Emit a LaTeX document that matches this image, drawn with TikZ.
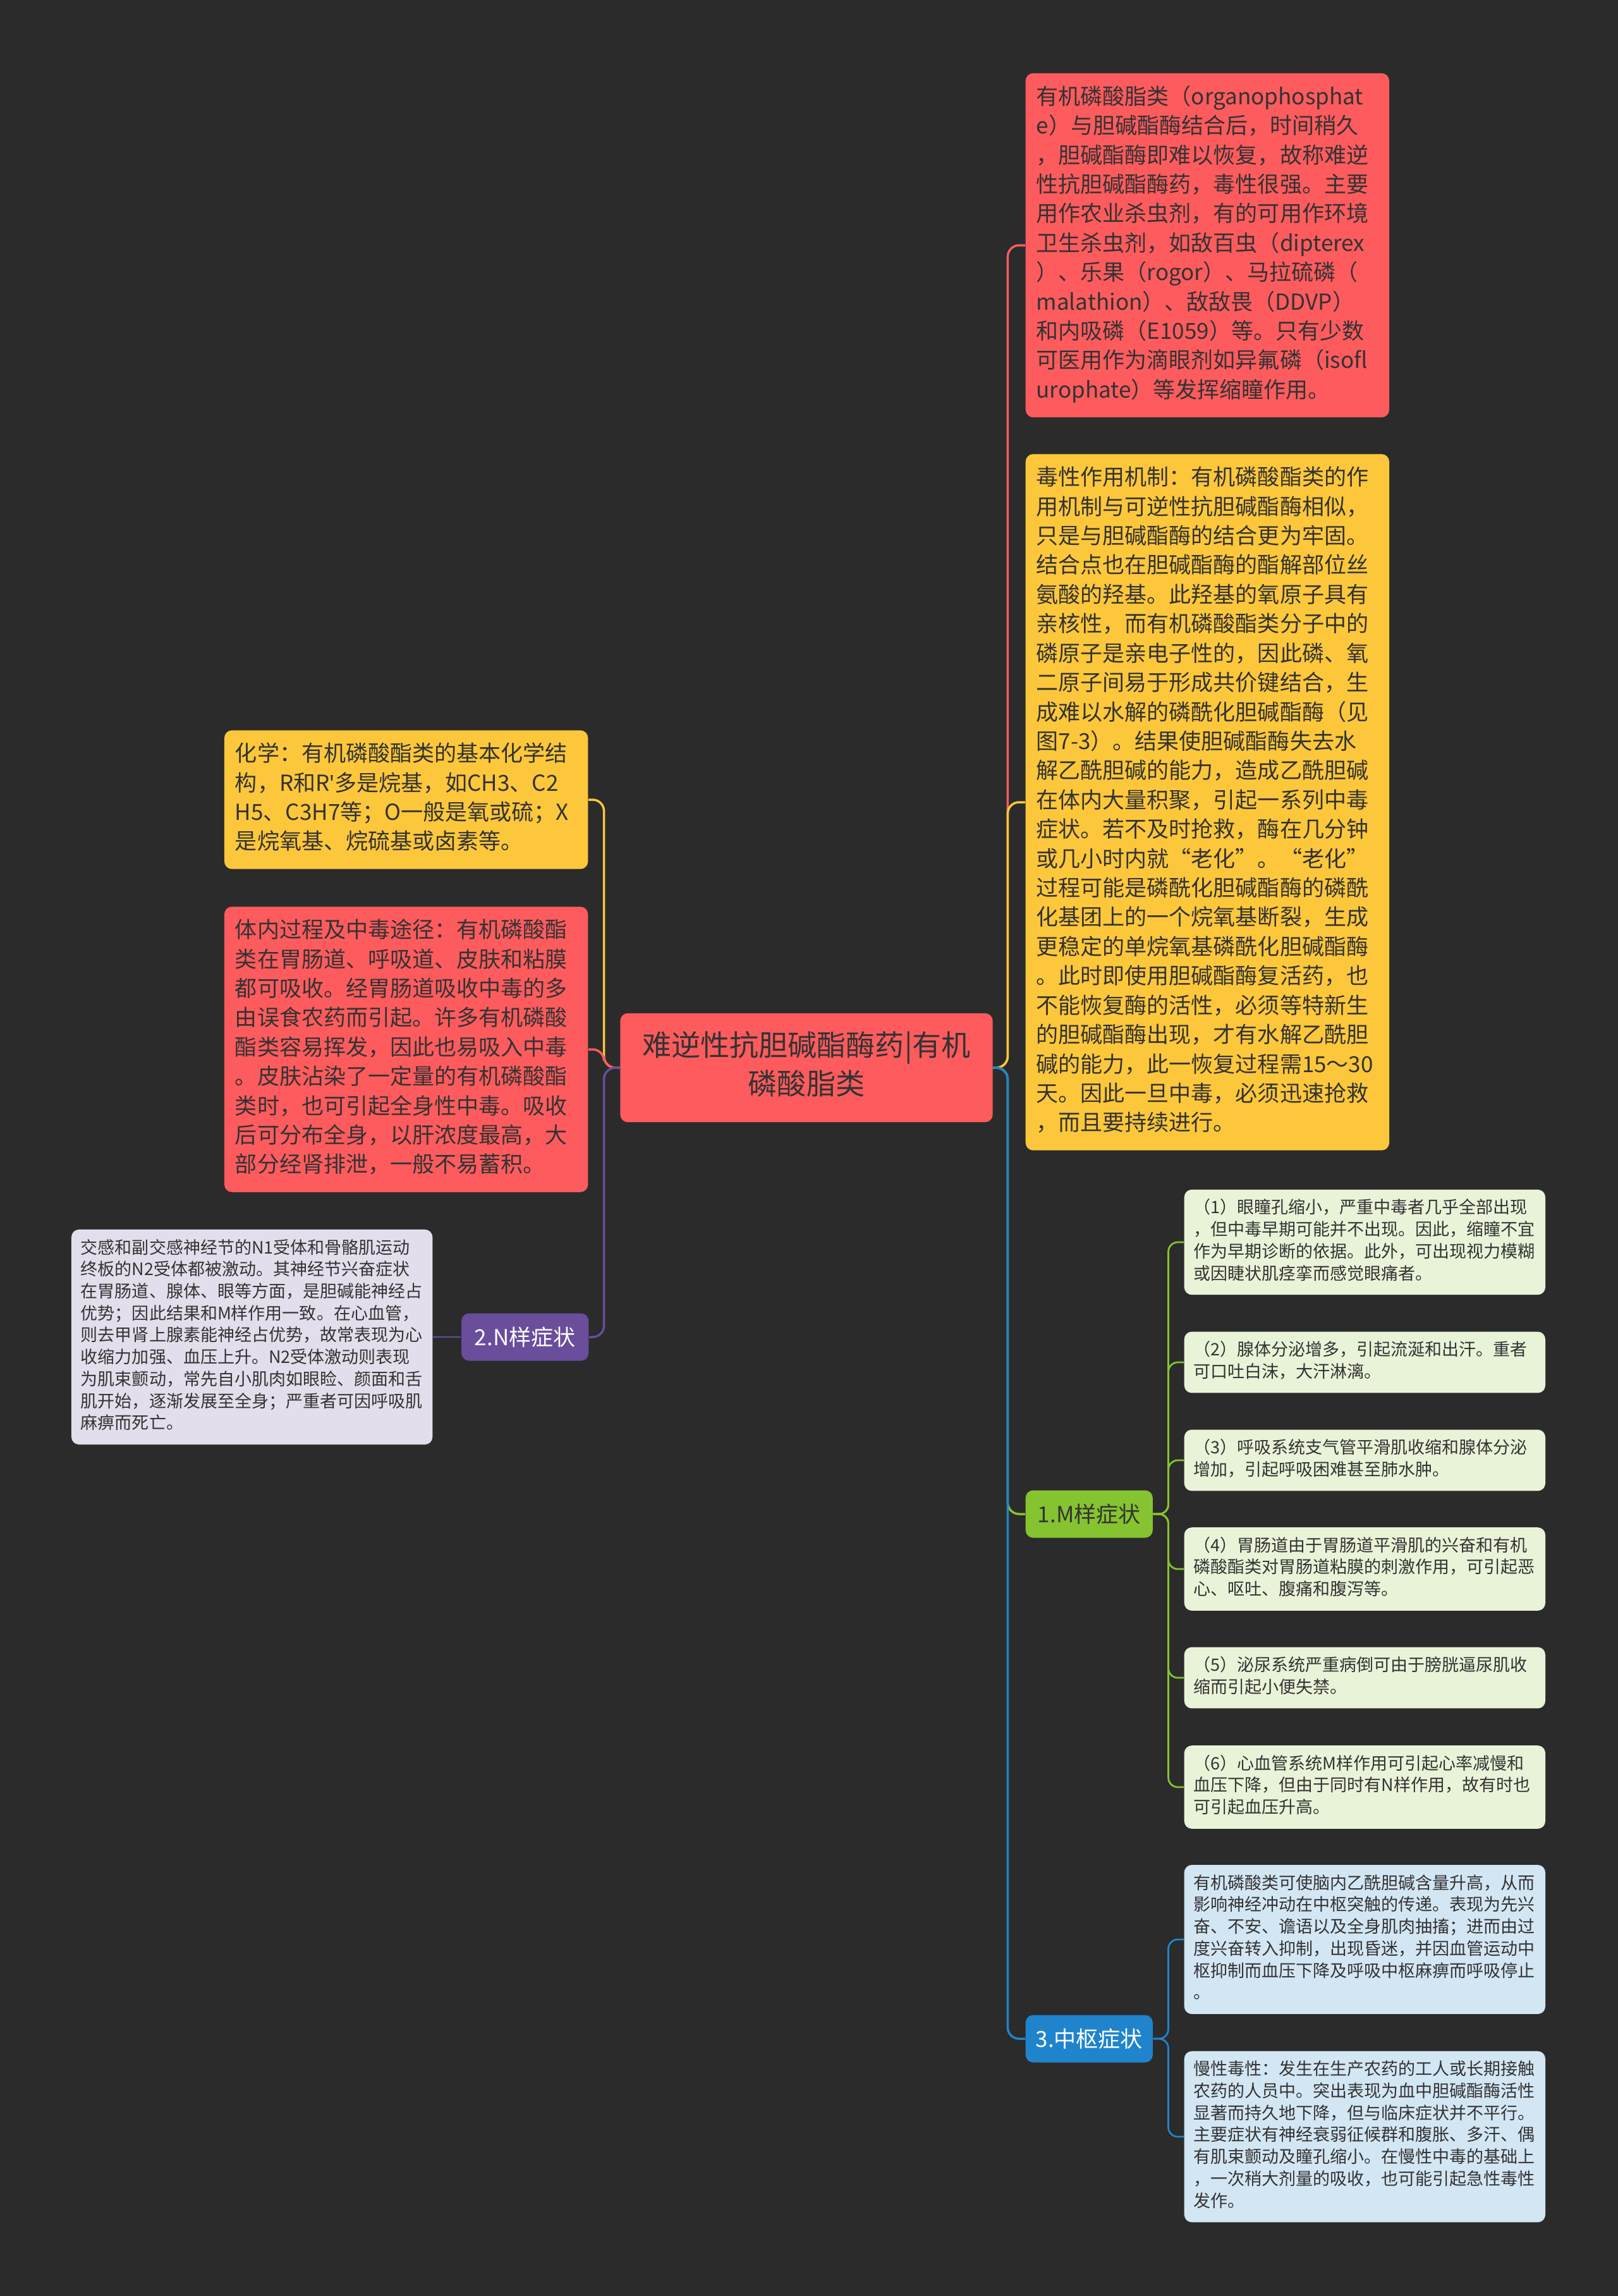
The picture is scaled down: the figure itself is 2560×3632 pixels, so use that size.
\documentclass[tikz,border=0pt]{standalone}
\usepackage{fontspec}
\setmainfont{Noto Sans CJK SC}
\newfontfamily\latino{Noto Sans}
\usepackage{xcolor}
\definecolor{sfondo}{HTML}{2B2B2B}
\definecolor{rosso}{HTML}{FD5B5D}
\definecolor{giallo}{HTML}{FDC73B}
\definecolor{verde}{HTML}{85C330}
\definecolor{verdino}{HTML}{E9F3D8}
\definecolor{viola}{HTML}{6A4D9B}
\definecolor{lilla}{HTML}{E3DEEB}
\definecolor{blu}{HTML}{1F84CC}
\definecolor{celeste}{HTML}{D3E6F4}
\definecolor{testo}{HTML}{333333}

\begin{document}
\begin{tikzpicture}[x=0.01cm, y=-0.01cm,
    radice/.style={fill=rosso, rounded corners=0.12cm, text width=5.55cm, align=center,
      inner xsep=0.17cm, inner ysep=7.4pt, text=testo,
      font=\fontsize{13.1pt}{17.1pt}\selectfont,
      execute at begin node=\strut, execute at end node=\strut},
    scheda/.style={rounded corners=0.12cm, inner xsep=0.17cm, inner ysep=4.8pt,
      text width=5.41cm, align=left, text=testo,
      font=\fontsize{9.96pt}{13.2pt}\selectfont,
      execute at begin node=\strut, execute at end node=\strut},
    nota/.style={scheda, inner xsep=0.15cm, inner ysep=3.9pt,
      font=\fontsize{7.68pt}{9.88pt}\selectfont},
    ramo/.style={rounded corners=0.12cm, minimum width=2.01cm, minimum height=0.75cm,
      inner sep=0pt, font=\fontsize{9.96pt}{12pt}\selectfont, text=white},
    filo/.style={line width=1pt, rounded corners=0.18cm},
    filino/.style={line width=0.8pt, rounded corners=0.15cm}
  ]
  \fill[sfondo] (0,0) rectangle (2560,3632);

  % Nodo centrale
  \node[radice] (centro) at (1276,1689) {难逆性抗胆碱酯酶药|有机\\磷酸脂类};

  % Lato destro
  \node[scheda, fill=rosso, anchor=west] (r1) at (1622,388) {有机磷酸脂类（organophosphat\\
    e）与胆碱酯酶结合后，时间稍久\\
    ，胆碱酯酶即难以恢复，故称难逆\\
    性抗胆碱酯酶药，毒性很强。主要\\
    用作农业杀虫剂，有的可用作环境\\
    卫生杀虫剂，如敌百虫（dipterex\\
    ）、乐果（rogor）、马拉硫磷（\\
    malathion）、敌敌畏（DDVP）\\
    和内吸磷（E1059）等。只有少数\\
    可医用作为滴眼剂如异氟磷（isofl\\
    urophate）等发挥缩瞳作用。};
  \node[scheda, fill=giallo, anchor=west] (r2) at (1622,1269) {毒性作用机制：有机磷酸酯类的作\\
    用机制与可逆性抗胆碱酯酶相似，\\
    只是与胆碱酯酶的结合更为牢固。\\
    结合点也在胆碱酯酶的酯解部位丝\\
    氨酸的羟基。此羟基的氧原子具有\\
    亲核性，而有机磷酸酯类分子中的\\
    磷原子是亲电子性的，因此磷、氧\\
    二原子间易于形成共价键结合，生\\
    成难以水解的磷酰化胆碱酯酶（见\\
    图7-3）。结果使胆碱酯酶失去水\\
    解乙酰胆碱的能力，造成乙酰胆碱\\
    在体内大量积聚，引起一系列中毒\\
    症状。若不及时抢救，酶在几分钟\\
    或几小时内就“老化”。“老化”\\
    过程可能是磷酰化胆碱酯酶的磷酰\\
    化基团上的一个烷氧基断裂，生成\\
    更稳定的单烷氧基磷酰化胆碱酯酶\\
    。此时即使用胆碱酯酶复活药，也\\
    不能恢复酶的活性，必须等特新生\\
    的胆碱酯酶出现，才有水解乙酰胆\\
    碱的能力，此一恢复过程需15～30\\
    天。因此一旦中毒，必须迅速抢救\\
    ，而且要持续进行。};
  \node[ramo, fill=verde, text=testo, anchor=west] (m) at (1622,2395) {1.M样症状};
  \node[ramo, fill=blu, anchor=west] (c) at (1622,3225) {3.中枢症状};

  % M样症状
  \node[nota, fill=verdino, anchor=west] (m1) at (1873,1965) {（1）眼瞳孔缩小，严重中毒者几乎全部出现\\
    ，但中毒早期可能并不出现。因此，缩瞳不宜\\
    作为早期诊断的依据。此外，可出现视力模糊\\
    或因睫状肌痉挛而感觉眼痛者。};
  \node[nota, fill=verdino, anchor=west] (m2) at (1873,2155) {（2）腺体分泌增多，引起流涎和出汗。重者\\
    可口吐白沫，大汗淋漓。};
  \node[nota, fill=verdino, anchor=west] (m3) at (1873,2310) {（3）呼吸系统支气管平滑肌收缩和腺体分泌\\
    增加，引起呼吸困难甚至肺水肿。};
  \node[nota, fill=verdino, anchor=west] (m4) at (1873,2482) {（4）胃肠道由于胃肠道平滑肌的兴奋和有机\\
    磷酸酯类对胃肠道粘膜的刺激作用，可引起恶\\
    心、呕吐、腹痛和腹泻等。};
  \node[nota, fill=verdino, anchor=west] (m5) at (1873,2654) {（5）泌尿系统严重病倒可由于膀胱逼尿肌收\\
    缩而引起小便失禁。};
  \node[nota, fill=verdino, anchor=west] (m6) at (1873,2827) {（6）心血管系统M样作用可引起心率减慢和\\
    血压下降，但由于同时有N样作用，故有时也\\
    可引起血压升高。};

  % 中枢症状
  \node[nota, fill=celeste, anchor=west] (c1) at (1873,3068) {有机磷酸类可使脑内乙酰胆碱含量升高，从而\\
    影响神经冲动在中枢突触的传递。表现为先兴\\
    奋、不安、谵语以及全身肌肉抽搐；进而由过\\
    度兴奋转入抑制，出现昏迷，并因血管运动中\\
    枢抑制而血压下降及呼吸中枢麻痹而呼吸停止\\
    。};
  \node[nota, fill=celeste, anchor=west] (c2) at (1873,3380) {慢性毒性：发生在生产农药的工人或长期接触\\
    农药的人员中。突出表现为血中胆碱酯酶活性\\
    显著而持久地下降，但与临床症状并不平行。\\
    主要症状有神经衰弱征候群和腹胀、多汗、偶\\
    有肌束颤动及瞳孔缩小。在慢性中毒的基础上\\
    ，一次稍大剂量的吸收，也可能引起急性毒性\\
    发作。};

  % Lato sinistro
  \node[scheda, fill=giallo, anchor=east] (l1) at (931,1265) {化学：有机磷酸酯类的基本化学结\\
    构，R和R{\latino '}多是烷基，如CH3、C2\\
    H5、C3H7等；O一般是氧或硫；X\\
    是烷氧基、烷硫基或卤素等。};
  \node[scheda, fill=rosso, anchor=east] (l2) at (931,1660) {体内过程及中毒途径：有机磷酸酯\\
    类在胃肠道、呼吸道、皮肤和粘膜\\
    都可吸收。经胃肠道吸收中毒的多\\
    由误食农药而引起。许多有机磷酸\\
    酯类容易挥发，因此也易吸入中毒\\
    。皮肤沾染了一定量的有机磷酸酯\\
    类时，也可引起全身性中毒。吸收\\
    后可分布全身，以肝浓度最高，大\\
    部分经肾排泄，一般不易蓄积。};
  \node[ramo, fill=viola, anchor=east] (n) at (932,2115) {2.N样症状};
  \node[nota, fill=lilla, anchor=east] (n1) at (685,2115) {交感和副交感神经节的N1受体和骨骼肌运动\\
    终板的N2受体都被激动。其神经节兴奋症状\\
    在胃肠道、腺体、眼等方面，是胆碱能神经占\\
    优势；因此结果和M样作用一致。在心血管，\\
    则去甲肾上腺素能神经占优势，故常表现为心\\
    收缩力加强、血压上升。N2受体激动则表现\\
    为肌束颤动，常先自小肌肉如眼睑、颜面和舌\\
    肌开始，逐渐发展至全身；严重者可因呼吸肌\\
    麻痹而死亡。};

  % Collegamenti
  \draw[filo, rosso] (centro.east) -- ++(23,0) |- (r1.west);
  \draw[filo, giallo] (centro.east) -- ++(23,0) |- (r2.west);
  \draw[filo, verde] (centro.east) -- ++(23,0) |- (m.west);
  \draw[filo, blu] (centro.east) -- ++(23,0) |- (c.west);
  \foreach \dest/\col in {l1/giallo, l2/rosso, n/viola}
    \draw[filo, \col] (centro.west) -- ++(-25,0) |- (\dest.east);
  \foreach \k in {1,...,6}
    \draw[filino, verde] (m.east) -- ++(24,0) |- (m\k.west);
  \foreach \k in {1,2}
    \draw[filino, blu] (c.east) -- ++(24,0) |- (c\k.west);
  \draw[filino, viola] (n.west) -- (n1.east);
\end{tikzpicture}
\end{document}
